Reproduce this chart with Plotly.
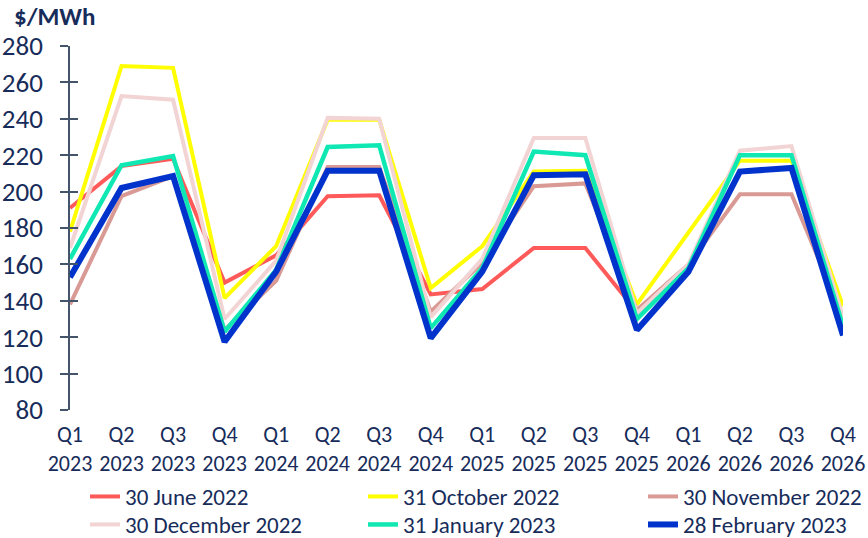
import plotly.graph_objects as go

categories = ["Q1<br>2023", "Q2<br>2023", "Q3<br>2023", "Q4<br>2023",
              "Q1<br>2024", "Q2<br>2024", "Q3<br>2024", "Q4<br>2024",
              "Q1<br>2025", "Q2<br>2025", "Q3<br>2025", "Q4<br>2025",
              "Q1<br>2026", "Q2<br>2026", "Q3<br>2026", "Q4<br>2026"]

jun_2022 = [191, 214, 218, 150, 165, 197.5, 198, 143.5, 146.5, 169, 169, 134,
            None, None, None, None]
oct_2022 = [178, 269, 268, 141.5, 170, 239.5, 239.5, 147, 170, 211, 211.5, 138,
            177.5, 217, 217, 137]
nov_2022 = [138, 197.5, 208.5, 124, 151, 213.5, 213.5, 134, 161, 203, 204.5, 135,
            160, 198.5, 198.5, 131]
dec_2022 = [169, 252.5, 250.5, 130, 162, 240.5, 240, 131, 163, 229.5, 229.5, 133,
            160, 222.5, 225, 131]
jan_2023 = [163, 214.5, 219.5, 123, 157, 224.5, 225.5, 125, 158, 222, 220, 130,
            158, 220, 220, 126]
feb_2023 = [153, 202, 208.5, 117.5, 156, 211.5, 211.5, 119.5, 156, 209, 209.5, 124,
            156, 211, 213, 121]

y_ticks = [80, 100, 120, 140, 160, 180, 200, 220, 240, 260, 280]

# name, values, colour, width
series = [
    ("30 June 2022", jun_2022, "#FF5A5A", 4),
    ("31 October 2022", oct_2022, "#FFFF00", 4),
    ("30 November 2022", nov_2022, "#D99A95", 4),
    ("30 December 2022", dec_2022, "#F2D4D4", 4),
    ("31 January 2023", jan_2023, "#10E8B4", 4.5),
    ("28 February 2023", feb_2023, "#0033CC", 6),
]

FONT = "Calibri, Carlito, Lato, sans-serif"
TXT = "#172c5a"
AX = "#44546a"
W, H = 868, 538

# legend grid: 3 columns x 2 rows (pixel anchors of each entry)
col_x = [85, 363, 643]
row_y = [475, 503]

fig = go.Figure()
legends = {}
for i, (name, vals, color, w) in enumerate(series):
    lid = "legend" if i == 0 else f"legend{i + 1}"
    fig.add_trace(go.Scatter(x=categories, y=vals, name=name, mode="lines",
                             line=dict(color=color, width=w),
                             connectgaps=False, legend=lid))
    legends[lid] = dict(orientation="h", xref="container", yref="container",
                        x=col_x[i % 3] / W, y=1 - row_y[i // 3] / H,
                        xanchor="left", yanchor="top",
                        font=dict(family=FONT, size=23, color=TXT),
                        bgcolor="rgba(0,0,0,0)", borderwidth=0)

fig.update_layout(
    width=W, height=H,
    margin=dict(l=70, r=25, t=46, b=128, autoexpand=False),
    paper_bgcolor="white", plot_bgcolor="white",
    font=dict(family=FONT, color=TXT, size=22),
    showlegend=True,
    xaxis=dict(type="category", range=[0, len(categories) - 1],
               showgrid=False, showline=False, zeroline=False,
               ticks="", tickfont=dict(size=22, color=TXT),
               ticklabelstandoff=9, automargin=False),
    yaxis=dict(range=[80, 280], tickvals=y_ticks, showgrid=False,
               zeroline=False, showline=True, linecolor=AX, linewidth=1.5,
               ticks="outside", ticklen=8, tickwidth=1.5, tickcolor=AX,
               tickfont=dict(size=27, color=TXT), ticklabelstandoff=12,
               automargin=False),
    yaxis2=dict(range=[80, 280], tickvals=y_ticks, overlaying="y",
                anchor="x", side="left", showgrid=False, zeroline=False,
                showline=False, ticks="inside", ticklen=8, tickwidth=1.5,
                tickcolor=AX, showticklabels=False, automargin=False),
    annotations=[dict(text="<b>$/MWh</b>", xref="paper", yref="paper",
                      x=(12 - 70) / 773, y=(410 + 1) / 364,
                      xanchor="left", yanchor="top", showarrow=False,
                      font=dict(family=FONT, size=25, color=TXT))],
    **legends,
)
# invisible trace to activate yaxis2
fig.add_trace(go.Scatter(x=[categories[0]], y=[None], yaxis="y2",
                         showlegend=False, hoverinfo="skip"))

fig.write_html("out.html",
               config={"displayModeBar": False},
               post_script="document.body.style.margin='0';"
                           "document.body.style.padding='0';")
